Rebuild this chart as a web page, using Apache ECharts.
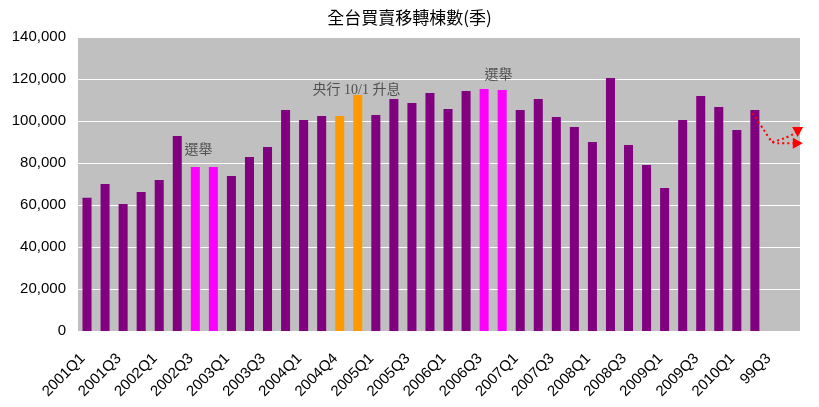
<!DOCTYPE html>
<html>
<head>
<meta charset="utf-8">
<title>全台買賣移轉棟數(季)</title>
<script src="https://cdn.jsdelivr.net/npm/echarts@6/dist/echarts.min.js"></script>
<style>
  html, body { margin: 0; padding: 0; background: #fff; }
  #my-charts { width: 819px; height: 407px; }
</style>
</head>
<body>
<div id="my-charts"></div>
<script>
// quarters (the source chart mislabels 2004Q3 as 2004Q4, kept as shown)
var quarters = [
  '2001Q1', '2001Q2', '2001Q3', '2001Q4',
  '2002Q1', '2002Q2', '2002Q3', '2002Q4',
  '2003Q1', '2003Q2', '2003Q3', '2003Q4',
  '2004Q1', '2004Q2', '2004Q4', '2004Q4',
  '2005Q1', '2005Q2', '2005Q3', '2005Q4',
  '2006Q1', '2006Q2', '2006Q3', '2006Q4',
  '2007Q1', '2007Q2', '2007Q3', '2007Q4',
  '2008Q1', '2008Q2', '2008Q3', '2008Q4',
  '2009Q1', '2009Q2', '2009Q3', '2009Q4',
  '2010Q1', '2010Q2', '99Q3', '99Q4'
]
// 買賣移轉棟數
var transfers = [
  63500, 70000, 60500, 66200,
  71900, 92900, 78100, 78100,
  73800, 82900, 87600, 105200,
  100500, 102400, 102400, 112400,
  102900, 110500, 108600, 113300,
  105700, 114300, 115200, 114800,
  105200, 110500, 101900, 97100,
  90000, 120500, 88600, 79000,
  68100, 100500, 111900, 106700,
  95700, 105200, null, null
]
var electionIdx = [6, 7, 22, 23]
var rateHikeIdx = [14, 15]

var yTicks = [0, 20000, 40000, 60000, 80000, 100000, 120000, 140000]

// notes, placed on the helper value axis (bar i sits at i + 0.5)
var noteText = ['選舉', '央行 10/1 升息', '選舉']
var noteX = [6.68, 15.43, 23.3]
var noteY = [86200, 114800, 121900]

// red dotted forecast arrows
var trendLowX = [37.38, 38.0, 38.47, 38.78, 39.88]
var trendLowY = [103700, 95700, 90000, 89400, 89400]
var trendUpX = [38.47, 39.17, 39.87]
var trendUpY = [90000, 91900, 94800]

var myChart = echarts.init(document.getElementById('my-charts'))

function pairs(xs, ys, arrowRotate) {
  return xs.map(function (x, i) {
    var item = { value: [x, ys[i]] }
    if (i === xs.length - 1) {
      item.symbol = 'triangle'
      item.symbolSize = [11, 10]
      item.symbolRotate = arrowRotate
    }
    return item
  })
}

var dotted = { color: '#ff0000', width: 2, type: [2, 3] }

var option = {
  animation: false,
  backgroundColor: '#fff',
  title: {
    text: '全台買賣移轉棟數(季)',
    left: 'center',
    top: 4,
    textStyle: {
      fontFamily: 'Noto Sans CJK TC',
      fontSize: 17,
      fontWeight: 'normal',
      color: '#000'
    }
  },
  grid: {
    left: 78,
    right: 19,
    top: 37,
    bottom: 76,
    show: true,
    backgroundColor: '#c0c0c0',
    borderWidth: 0
  },
  xAxis: [
    {
      type: 'category',
      data: quarters,
      axisLine: { show: false },
      axisTick: { show: false },
      axisLabel: {
        interval: 1,
        rotate: 45,
        margin: 21,
        padding: [0, 6, 0, 0],
        fontFamily: 'Liberation Sans',
        fontSize: 15,
        color: '#000'
      }
    },
    {
      type: 'value',
      min: 0,
      max: quarters.length,
      show: false
    }
  ],
  yAxis: {
    type: 'value',
    min: yTicks[0],
    max: yTicks[yTicks.length - 1],
    interval: 20000,
    axisLine: { show: false },
    axisTick: { show: false },
    splitLine: { lineStyle: { color: '#fff', width: 1 } },
    axisLabel: {
      margin: 12,
      fontFamily: 'Liberation Sans',
      fontSize: 15,
      color: '#000',
      formatter: function (v) {
        return v.toLocaleString('en-US')
      }
    }
  },
  series: [
    {
      name: '買賣移轉棟數',
      type: 'bar',
      barWidth: '50%',
      data: transfers,
      itemStyle: {
        color: function (p) {
          if (electionIdx.indexOf(p.dataIndex) > -1) return '#ff00ff'
          if (rateHikeIdx.indexOf(p.dataIndex) > -1) return '#ff9900'
          return '#800080'
        }
      }
    },
    {
      type: 'scatter',
      xAxisIndex: 1,
      symbolSize: 1,
      itemStyle: { color: 'transparent' },
      data: noteX.map(function (x, i) { return [x, noteY[i]] }),
      label: {
        show: true,
        position: 'inside',
        fontFamily: 'Liberation Serif, Noto Sans CJK TC',
        fontSize: 14,
        color: '#333',
        formatter: function (p) { return noteText[p.dataIndex] }
      },
      silent: true
    },
    {
      type: 'line',
      xAxisIndex: 1,
      smooth: 0.3,
      symbol: 'none',
      clip: false,
      lineStyle: dotted,
      itemStyle: { color: '#ff0000' },
      data: pairs(trendLowX, trendLowY, -90),
      silent: true
    },
    {
      type: 'line',
      xAxisIndex: 1,
      smooth: 0.3,
      symbol: 'none',
      clip: false,
      lineStyle: dotted,
      itemStyle: { color: '#ff0000' },
      data: pairs(trendUpX, trendUpY, 180),
      silent: true
    }
  ]
}

myChart.setOption(option)
myChart.resize()
</script>
</body>
</html>
